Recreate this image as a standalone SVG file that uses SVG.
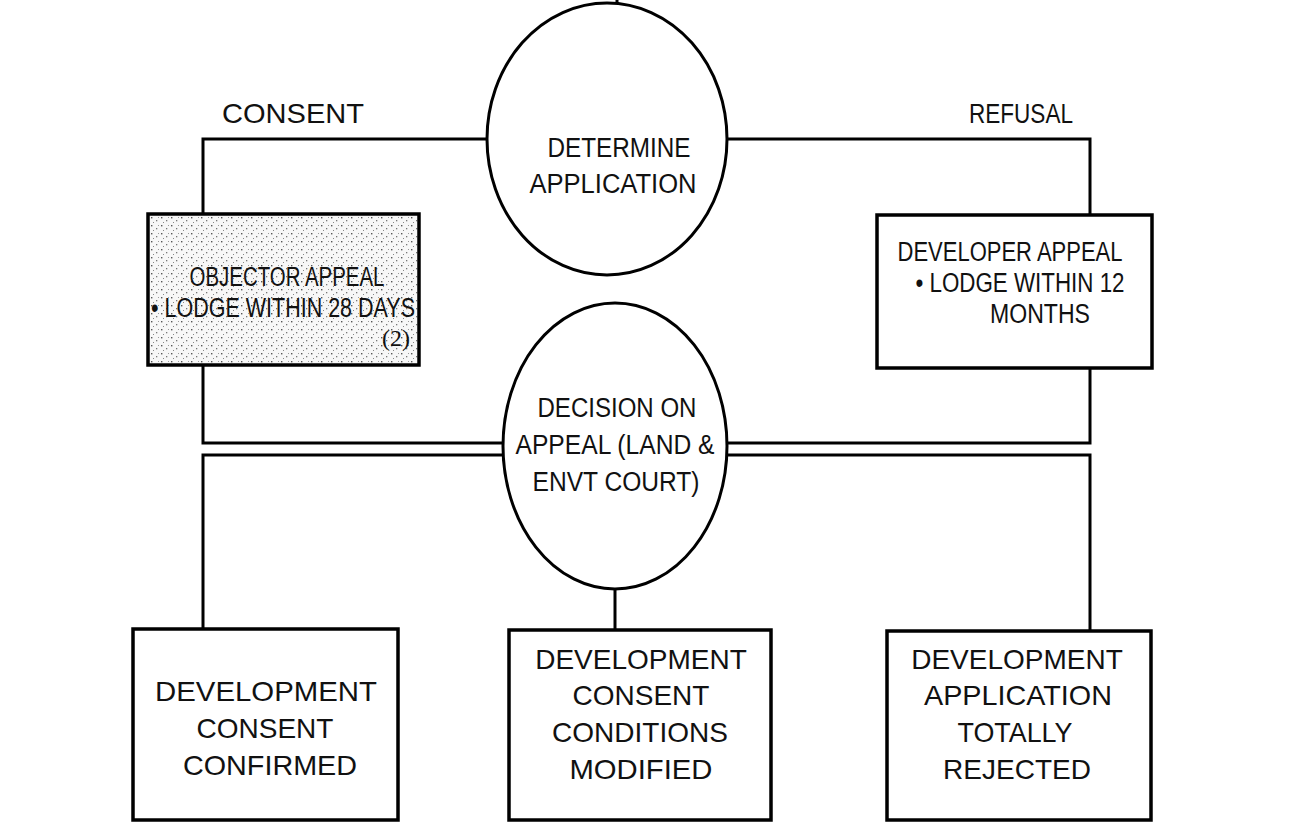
<svg xmlns="http://www.w3.org/2000/svg" width="1291" height="823" viewBox="0 0 1291 823">
<defs>
<pattern id="stip" width="10" height="8" patternUnits="userSpaceOnUse">
<rect width="10" height="8" fill="#f7f7f7"/>
<rect x="1" y="1" width="1.4" height="1.4" fill="#555"/>
<rect x="6" y="4" width="1.3" height="1.3" fill="#777"/>
<rect x="8" y="1" width="1" height="1" fill="#999"/>
<rect x="3" y="6" width="1" height="1" fill="#888"/>
</pattern>
<style>
.ln{fill:none;stroke:#000;stroke-width:3}
.bx{fill:#fff;stroke:#000;stroke-width:3.5}
.el{fill:#fff;stroke:#000;stroke-width:3}
.t{font-family:"Liberation Sans",Arial,sans-serif;font-size:28px;fill:#111;text-anchor:middle}
.u{font-family:"Liberation Sans",Arial,sans-serif;font-size:27px;fill:#111;text-anchor:middle}
.s{font-family:"Liberation Serif","Times New Roman",serif;font-size:24px;fill:#111;text-anchor:end}
</style>
</defs>
<rect width="1291" height="823" fill="#fff"/>
<g id="connectors">
<path class="ln" d="M617 0V5"/>
<path class="ln" d="M487 139H203V214"/>
<path class="ln" d="M727 139H1090V215"/>
<path class="ln" d="M203 365V443H503"/>
<path class="ln" d="M503 455H203V629"/>
<path class="ln" d="M1090 368V443H728"/>
<path class="ln" d="M728 455H1090V631"/>
<path class="ln" d="M615 589V630"/>
</g>
<g id="label-consent"><text class="t" x="293" y="123" textLength="142" lengthAdjust="spacingAndGlyphs">CONSENT</text></g>
<g id="label-refusal"><text class="u" x="1021" y="123" textLength="104" lengthAdjust="spacingAndGlyphs">REFUSAL</text></g>
<g id="determine">
<ellipse class="el" cx="607" cy="139" rx="120" ry="136"/>
<text class="u" x="619" y="157" textLength="143" lengthAdjust="spacingAndGlyphs">DETERMINE</text>
<text class="u" x="613" y="193" textLength="167" lengthAdjust="spacingAndGlyphs">APPLICATION</text>
</g>
<g id="objector">
<rect x="148" y="214" width="271" height="151" fill="url(#stip)" stroke="#000" stroke-width="3.5"/>
<text class="u" x="287" y="286" textLength="195" lengthAdjust="spacingAndGlyphs">OBJECTOR APPEAL</text>
<text class="u" x="283" y="317" textLength="264" lengthAdjust="spacingAndGlyphs">• LODGE WITHIN 28 DAYS</text>
<text class="s" x="410" y="346">(2)</text>
</g>
<g id="developer">
<rect class="bx" x="877" y="215" width="275" height="153"/>
<text class="u" x="1010" y="261" textLength="225" lengthAdjust="spacingAndGlyphs">DEVELOPER APPEAL</text>
<text class="u" x="1020" y="292" textLength="209" lengthAdjust="spacingAndGlyphs">• LODGE WITHIN 12</text>
<text class="u" x="1040" y="323" textLength="100" lengthAdjust="spacingAndGlyphs">MONTHS</text>
</g>
<g id="decision">
<ellipse class="el" cx="615" cy="446" rx="112" ry="143"/>
<text class="u" x="617" y="417" textLength="159" lengthAdjust="spacingAndGlyphs">DECISION ON</text>
<text class="u" x="615" y="454" textLength="199" lengthAdjust="spacingAndGlyphs">APPEAL (LAND &amp;</text>
<text class="u" x="616" y="491" textLength="167" lengthAdjust="spacingAndGlyphs">ENVT COURT)</text>
</g>
<g id="confirmed">
<rect class="bx" x="133" y="629" width="265" height="191"/>
<text class="t" x="266" y="701" textLength="222" lengthAdjust="spacingAndGlyphs">DEVELOPMENT</text>
<text class="t" x="265" y="738">CONSENT</text>
<text class="t" x="270" y="775" textLength="174" lengthAdjust="spacingAndGlyphs">CONFIRMED</text>
</g>
<g id="modified">
<rect class="bx" x="509" y="630" width="262" height="190"/>
<text class="t" x="641" y="669">DEVELOPMENT</text>
<text class="t" x="641" y="705">CONSENT</text>
<text class="t" x="640" y="742">CONDITIONS</text>
<text class="t" x="641" y="779" textLength="143" lengthAdjust="spacingAndGlyphs">MODIFIED</text>
</g>
<g id="rejected">
<rect class="bx" x="887" y="631" width="264" height="189"/>
<text class="t" x="1017" y="669">DEVELOPMENT</text>
<text class="t" x="1018" y="705" textLength="188" lengthAdjust="spacingAndGlyphs">APPLICATION</text>
<text class="t" x="1015" y="742" textLength="115" lengthAdjust="spacingAndGlyphs">TOTALLY</text>
<text class="t" x="1017" y="779">REJECTED</text>
</g>
</svg>
